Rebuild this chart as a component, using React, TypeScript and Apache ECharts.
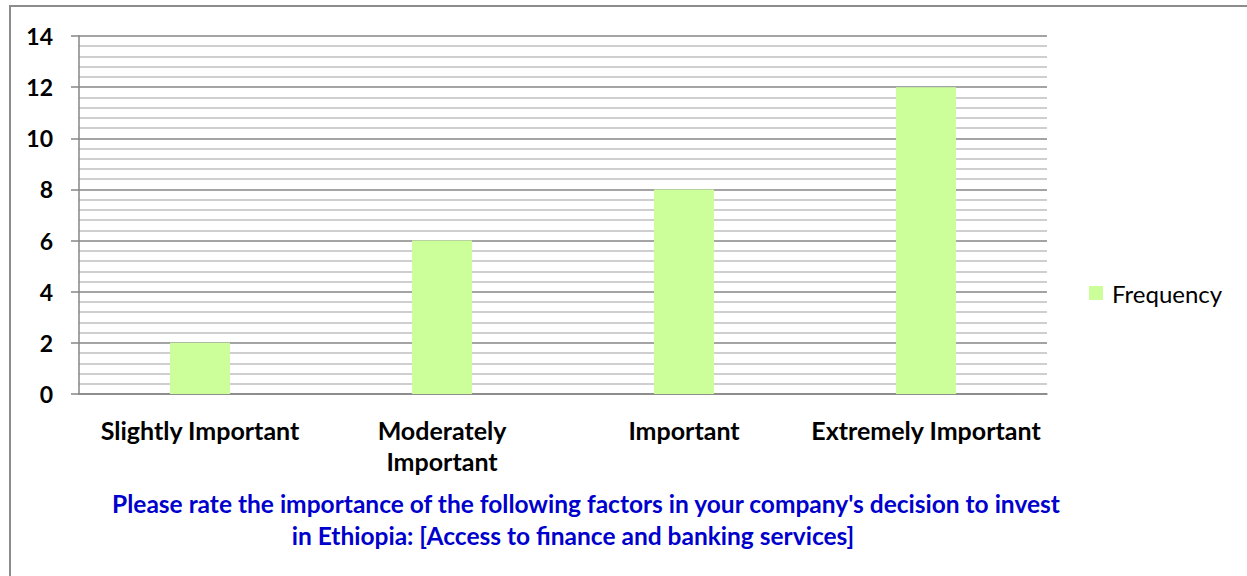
import React, { useEffect, useRef } from "react";
import * as echarts from "echarts";

const categories = ["Slightly Important", "Moderately\nImportant", "Important", "Extremely Important"];
const frequency = [2, 6, 8, 12];
const seriesName = "Frequency";
const titleLines = [
  "Please rate the importance of the following factors in your company's decision to invest",
  "in Ethiopia: [Access to finance and banking services]",
];

const FONT = "Lato, 'Open Sans', sans-serif";

export default function App() {
  const ref = useRef<HTMLDivElement>(null);
  useEffect(() => {
    const chart = echarts.init(ref.current!, undefined, { renderer: "svg" });
    const titleStyle = {
      align: "center",
      verticalAlign: "middle",
      fontSize: 24.5,
      fontWeight: "bold",
      fill: "#0000CC",
      fontFamily: FONT,
    };
    chart.setOption({
      animation: false,
      textStyle: { fontFamily: FONT },
      grid: { left: 79, top: 36, width: 968, height: 358, containLabel: false },
      legend: {
        show: true,
        left: 1089,
        top: 281,
        padding: 0,
        icon: "rect",
        itemWidth: 14,
        itemHeight: 14,
        itemGap: 6,
        textStyle: { fontSize: 24, color: "#000", fontFamily: FONT, padding: [0, 0, 0, 4] },
        data: [seriesName],
      },
      xAxis: {
        type: "category",
        data: categories,
        axisLine: { show: true, lineStyle: { color: "#868686", width: 1.5 } },
        axisTick: { show: false },
        axisLabel: {
          interval: 0,
          margin: 20,
          fontSize: 25,
          fontWeight: "bold",
          color: "#000",
          lineHeight: 31,
          fontFamily: FONT,
        },
      },
      yAxis: {
        type: "value",
        min: 0,
        max: 14,
        interval: 2,
        axisLine: { show: true, lineStyle: { color: "#868686", width: 1.5 } },
        axisTick: { show: true, length: 8, lineStyle: { color: "#868686", width: 1.5 } },
        axisLabel: { fontSize: 23, fontWeight: "bold", color: "#000", margin: 26, fontFamily: FONT },
        splitLine: { show: true, lineStyle: { color: "#868686", width: 1.5 } },
        minorTick: { show: false, splitNumber: 5 },
        minorSplitLine: { show: true, lineStyle: { color: "#BFBFBF", width: 1.5 } },
      },
      series: [
        {
          name: seriesName,
          type: "bar",
          data: frequency,
          barWidth: 60,
          itemStyle: { color: "#CCFF99" },
        },
      ],
      graphic: [
        {
          type: "rect",
          shape: { x: 10, y: 6, width: 1400, height: 800 },
          style: { fill: "none", stroke: "#8c8c8c", lineWidth: 2 },
          silent: true,
        },
        {
          type: "text",
          x: 586,
          y: 503,
          style: { ...titleStyle, text: titleLines[0] },
        },
        {
          type: "text",
          x: 573,
          y: 535,
          style: { ...titleStyle, text: titleLines[1] },
        },
      ],
    });
    return () => chart.dispose();
  }, []);
  return <div ref={ref} style={{ position: "fixed", left: 0, top: 0, width: 1247, height: 576, background: "#fff" }} />;
}
